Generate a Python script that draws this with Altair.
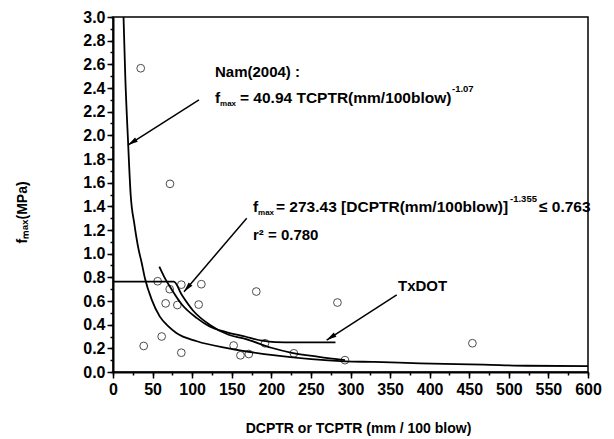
import altair as alt
import pandas as pd
import numpy as np

# ---- data ----
pt_x = [35, 38.8, 56.4, 61.5, 66.5, 71.6, 72, 81.3, 86.3, 86.3, 108.2, 111.6,
        152.4, 161, 171.5, 181, 192, 228.5, 283.5, 293, 454]
pt_y = [2.567, 0.22, 0.767, 0.30, 0.58, 0.70, 1.59, 0.566, 0.738, 0.163, 0.570, 0.742,
        0.224, 0.141, 0.152, 0.68, 0.243, 0.158, 0.587, 0.10, 0.243]

nam_x = [13.3, 15.5, 19, 22.3, 27, 32.5, 36, 40.4, 49, 59, 70, 80, 106, 146, 205,
         293, 330, 388, 468, 523, 600]
nam_y = [3.0, 2.5, 1.95, 1.5, 1.25, 1.03, 0.93, 0.79, 0.61, 0.47, 0.385, 0.33, 0.26,
         0.2, 0.14, 0.09, 0.085, 0.073, 0.062, 0.053, 0.05]

dcp_x = [0, 76.8, 87, 101, 122, 146, 167, 200, 226, 260, 293]
dcp_y = [0.763, 0.763, 0.65, 0.52, 0.40, 0.315, 0.28, 0.205, 0.162, 0.128, 0.10]

tx_x = [58.5, 65, 72, 87, 106, 122, 142, 167, 188, 205, 230, 281]
tx_y = [0.89, 0.80, 0.72, 0.57, 0.455, 0.385, 0.34, 0.30, 0.265, 0.252, 0.25, 0.25]

arr_x = [108.6, 168.9, 358.4]
arr_y = [2.299, 1.299, 0.651]
arr_x2 = [18.9, 89.7, 269.9]
arr_y2 = [1.918, 0.679, 0.270]

txt = ["Nam(2004) :", "f", "max", "= 40.94 TCPTR(mm/100blow)", "-1.07",
       "f", "max", "= 273.43 [DCPTR(mm/100blow)]", "-1.355", "\u2264 0.763",
       "r\u00b2 = 0.780", "TxDOT"]
txt_x = [128.8, 128.8, 135.2, 160.4, 428.2, 176.8, 183.2, 205.9, 501.5, 538.1, 176.8, 360]
txt_y = [2.535, 2.316, 2.262, 2.316, 2.39, 1.394, 1.34, 1.394, 1.462, 1.394, 1.158, 0.727]
txt_fs = [15, 15.5, 8, 15.5, 9.5, 15.5, 8, 15.5, 9.5, 15.5, 15, 15]

x_major = list(range(0, 601, 50))
x_minor = list(range(0, 601, 25))
y_major = [0.0, 0.2, 0.4, 0.6, 0.8, 1.0, 1.2, 1.4, 1.6, 1.8, 2.0, 2.2, 2.4, 2.6, 2.8, 3.0]
y_minor = [round(0.1 * i, 1) for i in range(31)]

# ---- frames ----
W, H = 475, 355
pts = pd.DataFrame({"x": pt_x, "y": pt_y})
curves = pd.concat([
    pd.DataFrame({"x": nam_x, "y": nam_y, "c": "nam", "i": range(len(nam_x))}),
    pd.DataFrame({"x": dcp_x, "y": dcp_y, "c": "dcp", "i": range(len(dcp_x))}),
    pd.DataFrame({"x": tx_x, "y": tx_y, "c": "tx", "i": range(len(tx_x))}),
])
sx, sy = W / 600, H / 3
dxp = (np.array(arr_x2) - np.array(arr_x)) * sx
dyp = -(np.array(arr_y2) - np.array(arr_y)) * sy
ang = (np.degrees(np.arctan2(dxp, -dyp)) + 360) % 360
arrows = pd.DataFrame({"x": arr_x, "y": arr_y, "x2": arr_x2, "y2": arr_y2, "ang": ang})
labels = pd.DataFrame({"t": txt, "x": txt_x, "y": txt_y, "fs": txt_fs})

FONT = "Liberation Sans"
xs = alt.Scale(domain=[0, 600], nice=False, zero=False)
ys = alt.Scale(domain=[0, 3], nice=False, zero=False)

common = dict(grid=False, tickColor="black", domainColor="black", labelColor="black",
              titleColor="black", labelFont=FONT, titleFont=FONT)

x_major_axis = alt.Axis(values=x_major, orient="bottom", tickSize=6, tickWidth=1.5,
                        domainWidth=2, labelFontSize=16, labelFontWeight="bold",
                        labelPadding=3, format="d", labelFlush=False,
                        title="DCPTR or TCPTR (mm / 100 blow)", titleFontSize=14,
                        titleFontWeight="bold", titleX=245, titleY=56,
                        titleBaseline="middle", titleAlign="center", **common)
y_major_axis = alt.Axis(values=y_major, orient="left", tickSize=6, tickWidth=1.5,
                        domainWidth=2, labelFontSize=16, labelFontWeight="bold",
                        labelPadding=2, format=".1f", labelFlush=False,
                        title="f\u2098\u2090\u2093(MPa)", titleFontSize=14,
                        titleFontWeight="bold", titleX=-91, titleY=195, titleAngle=270,
                        titleBaseline="middle", titleAlign="center", **common)
x_minor_axis = alt.Axis(values=x_minor, orient="bottom", tickSize=3, tickWidth=1.5,
                        labels=False, domain=False, title="", **common)
y_minor_axis = alt.Axis(values=y_minor, orient="left", tickSize=3, tickWidth=1.5,
                        labels=False, domain=False, title="", **common)

points = alt.Chart(pts).mark_point(shape="circle", filled=False, stroke="black",
                                   strokeWidth=1, size=60).encode(
    x=alt.X("x:Q", scale=xs, axis=x_minor_axis),
    y=alt.Y("y:Q", scale=ys, axis=y_minor_axis),
)

lines = alt.Chart(curves).mark_line(color="black", strokeWidth=1.8,
                                    interpolate="monotone").encode(
    x=alt.X("x:Q", scale=xs, axis=x_major_axis),
    y=alt.Y("y:Q", scale=ys, axis=y_major_axis),
    detail="c:N",
    order="i:Q",
)

rules = alt.Chart(arrows).mark_rule(color="black", strokeWidth=1.5).encode(
    x=alt.X("x:Q", scale=xs, axis=None),
    y=alt.Y("y:Q", scale=ys, axis=None),
    x2="x2:Q",
    y2="y2:Q",
)

heads = alt.Chart(arrows).mark_point(shape="M0,0 L-0.5,2 L0.5,2 Z", filled=True,
                                     fill="black", strokeWidth=0, size=100,
                                     opacity=1).encode(
    x=alt.X("x2:Q", scale=xs, axis=None),
    y=alt.Y("y2:Q", scale=ys, axis=None),
    angle=alt.Angle("ang:Q", scale=None),
)

texts = alt.Chart(labels).mark_text(align="left", baseline="middle", font=FONT,
                                    fontWeight="bold", color="black").encode(
    x=alt.X("x:Q", scale=xs, axis=None),
    y=alt.Y("y:Q", scale=ys, axis=None),
    text="t:N",
    size=alt.Size("fs:Q", scale=None),
)

chart = alt.layer(points, lines, rules, heads, texts).resolve_axis(
    x="independent", y="independent"
).properties(
    width=W, height=H,
    autosize=alt.AutoSizeParams(type="none"),
    padding={"left": 113, "top": 17, "right": 26, "bottom": 67},
    background="white",
).configure_view(stroke="black", strokeWidth=1.5)

chart.save("out.html", embed_options={"renderer": "svg", "actions": False})
